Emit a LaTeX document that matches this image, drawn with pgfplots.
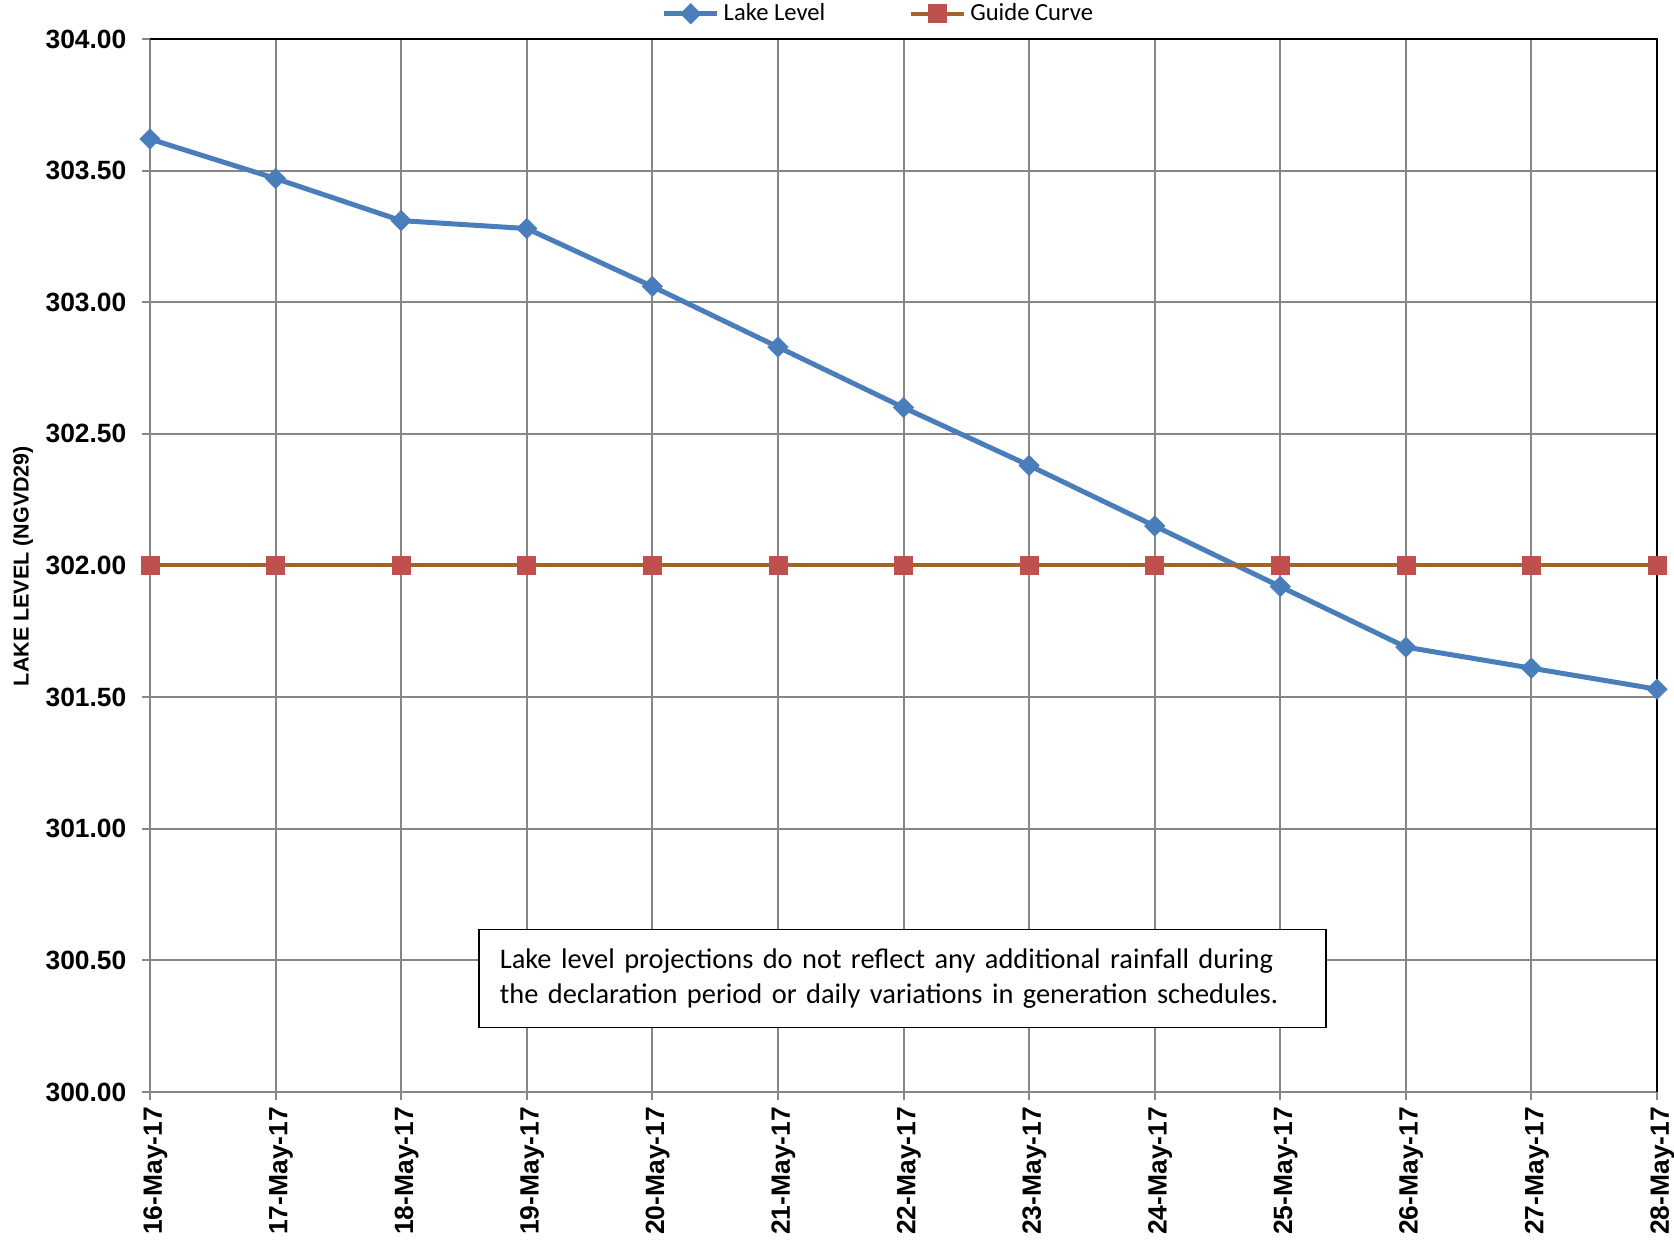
\documentclass[border=0pt]{standalone}
\usepackage{fontspec}
\setmainfont{Liberation Sans}
\newfontfamily\calibri{Carlito}
\usepackage{pgfplots}
\pgfplotsset{compat=1.18}
\definecolor{lakeblue}{HTML}{4A7EBB}
\definecolor{guidebrown}{HTML}{A0652D}
\definecolor{guidered}{HTML}{C0504D}
\definecolor{gridgray}{HTML}{868686}
\begin{document}
\begin{tikzpicture}
\useasboundingbox (-75pt,-74.5pt) rectangle (762pt,546pt);
\begin{axis}[
  at={(0,0)}, anchor=south west,
  scale only axis, width=753.5pt, height=526.5pt,
  xmin=0, xmax=12, ymin=300, ymax=304,
  xtick={0,1,2,3,4,5,6,7,8,9,10,11,12},
  xticklabels={16-May-17,17-May-17,18-May-17,19-May-17,20-May-17,21-May-17,22-May-17,23-May-17,24-May-17,25-May-17,26-May-17,27-May-17,28-May-17},
  ytick={300,300.5,301,301.5,302,302.5,303,303.5,304},
  grid=major, major grid style={gridgray, line width=1pt},
  axis line style={draw=none},
  tick align=outside, xtick pos=left, ytick pos=left,
  major tick length=4pt, tick style={gridgray, line width=1pt},
  /pgf/number format/assume math mode=true,
  yticklabel style={/pgf/number format/fixed, /pgf/number format/fixed zerofill, /pgf/number format/precision=2, xshift=-4.3pt},
  ticklabel style={font=\bfseries\fontsize{13.2}{15}\selectfont, black},
  xticklabel style={rotate=90, anchor=east, yshift=-2.7pt},
  clip=false,
  legend columns=2,
  legend style={draw=none, fill=none, at={(0.484,1.024)}, anchor=center,
    font=\calibri\fontsize{12.3}{14}\selectfont,
    /tikz/every even column/.append style={column sep=40pt}},
  legend image code/.code={\draw[mark repeat=2,mark phase=2,#1] plot coordinates {(0pt,0pt) (13.25pt,0pt) (26.5pt,0pt)};},
]
\draw[black, line width=0.75pt] (rel axis cs:0,1) -- (rel axis cs:1,1) -- (rel axis cs:1,0);
\addplot[lakeblue, line width=2.5pt, mark=square*, mark size=3.6pt,
  mark options={rotate=45, solid, line width=0.3pt, fill=lakeblue, draw=lakeblue}]
  coordinates {(0,303.62) (1,303.47) (2,303.31) (3,303.28) (4,303.06) (5,302.83) (6,302.60) (7,302.38) (8,302.15) (9,301.92) (10,301.69) (11,301.61) (12,301.53)};
\addlegendentry{Lake Level}
\addplot[guidebrown, line width=2pt, mark=square*, mark size=4.5pt,
  mark options={solid, line width=0.3pt, fill=guidered, draw=guidered}]
  coordinates {(0,302) (1,302) (2,302) (3,302) (4,302) (5,302) (6,302) (7,302) (8,302) (9,302) (10,302) (11,302) (12,302)};
\addlegendentry{Guide Curve}
\node[draw=black, line width=0.75pt, fill=white, text width=402.5pt, inner xsep=10.5pt, minimum height=49pt,
  align=left, font=\calibri\fontsize{14.2}{17.5}\selectfont, anchor=center]
  at (rel axis cs:0.4993,0.108) {Lake level projections do not reflect any additional rainfall during\\the declaration period or daily variations in generation schedules.};
\end{axis}
\node[rotate=90, font=\bfseries\fontsize{10.75}{12}\selectfont] at (-63.5pt,263pt) {LAKE LEVEL (NGVD29)};
\end{tikzpicture}
\end{document}
